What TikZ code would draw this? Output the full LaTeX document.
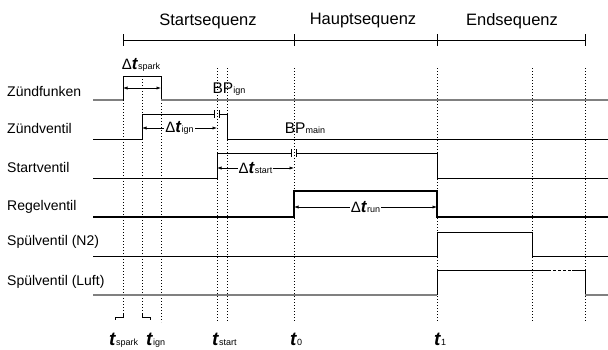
\documentclass[tikz,border=0pt]{standalone}
\usepackage{fontspec}
\setmainfont{Liberation Sans}
\usetikzlibrary{arrows.meta,calc}

\newcommand{\tsub}[1]{\raisebox{-0.5pt}{\fontsize{9}{10}\selectfont #1}}
\newcommand{\tvar}[1]{\textbf{\textit{t}}\tsub{#1}}
\newcommand{\dtime}[1]{{\fontsize{15}{16}\selectfont Δ}\tvar{#1}}

\begin{document}
\begin{tikzpicture}[
    x=1pt, y=-1pt,
    >={Latex[length=4.5pt,width=3.2pt]},
    sig/.style={line width=0.8pt},
    lowgray/.style={line width=1.3pt, black!50},
    guide/.style={dash pattern=on 0.9pt off 2.1pt, line width=0.7pt},
    lbl/.style={anchor=west, inner sep=0pt, font=\fontsize{14}{16}\selectfont},
    seq/.style={font=\fontsize{16.5}{18}\selectfont},
    dt/.style={fill=white, inner sep=1pt, font=\fontsize{17}{18}\selectfont},
    bp/.style={inner sep=0pt, font=\fontsize{15.5}{17}\selectfont},
    tlab/.style={anchor=base west, inner sep=0pt, font=\fontsize{19}{20}\selectfont}
]
\useasboundingbox (0,0) rectangle (608,349);

% time points and signal levels
\foreach \n/\x in {ts/93, tspark/123, tign/142, tsparkoff/161, tstart/217, tignoff/227,
                   tnull/294, tone/437, tntwo/532, tluft/585, te/608}
  \coordinate (\n) at (\x,0);
\foreach \n/\y in {seq/40, zfl/100, zfh/76, zvl/139, zvh/114, svl/178, svh/153,
                   rvl/217, rvh/191, nl/256, nh/232, ll/295, lh/270}
  \coordinate (\n) at (0,\y);

% sequences
\draw[line width=0.8pt] (tspark|-seq) -- (tluft|-seq);
\foreach \t in {tspark,tnull,tone,tluft}
  \draw[line width=0.8pt] (\t|-seq) ++(0,-6) -- ++(0,12);
\node[seq] (startseq) at (208,21) {Startsequenz};
\node[seq] (hauptseq) at (363,21) {Hauptsequenz};
\node[seq] (endseq) at (512,21) {Endsequenz};

% guides
\foreach \t in {tstart,tignoff,tnull,tone,tntwo,tluft}
  \draw[guide] (\t|-0,68) -- (\t|-0,322);
\draw[guide] (tspark|-0,76) -- (tspark|-0,313);
\draw[guide] (tign|-0,76) -- (tign|-0,313);
\draw[guide] (tsparkoff|-0,76) -- (tsparkoff|-0,322);

% labels
\node[lbl] (zf) at (7,91) {Zündfunken};
\node[lbl] (zv) at (7,128) {Zündventil};
\node[lbl] (sv) at (7,167) {Startventil};
\node[lbl] (rv) at (7,207) {Regelventil};
\node[lbl] (nv) at (7,242) {Spülventil (N2)};
\node[lbl] (lv) at (7,282) {Spülventil (Luft)};

% Zuendfunken
\draw[lowgray] (ts|-zfl) -- (tspark|-zfl);
\draw[sig] (tspark|-zfl) |- (tsparkoff|-zfh) -- (tsparkoff|-zfl);
\draw[lowgray] (tsparkoff|-zfl) -- (te|-zfl);

% Zuendventil
\draw[sig] (ts|-zvl) -- (tign|-zvl) |- ($(tstart|-zvh)+(-2.5,0)$) ++(0,-4) -- ++(0,8);
\draw[sig] ($(tstart|-zvh)+(2.5,0)$) ++(0,-4) -- ++(0,8) ++(0,-4) -| (tignoff|-zvl) -- (te|-zvl);

% Startventil
\draw[sig] (ts|-svl) -- (tstart|-svl) |- ($(tnull|-svh)+(-2.5,0)$) ++(0,-4) -- ++(0,8);
\draw[sig] ($(tnull|-svh)+(2.5,0)$) ++(0,-4) -- ++(0,8) ++(0,-4) -| (tone|-svl) -- (te|-svl);

% Regelventil
\draw[line width=2pt] (ts|-rvl) -- (tnull|-rvl) |- (tone|-rvh) -- (tone|-rvl) -- (te|-rvl);

% Spuelventile
\draw[sig] (ts|-nl) -- (tone|-nl) |- (tntwo|-nh) -- (tntwo|-nl) -- (te|-nl);
\draw[lowgray] (ts|-ll) -- (tone|-ll);
\draw[sig] (tone|-ll) |- (548,270);
\draw[sig, dash pattern=on 3pt off 2pt] (548,270) -- (572,270);
\draw[sig] (572,270) -| (tluft|-ll);
\draw[lowgray] (tluft|-ll) -- (te|-ll);

% durations
\draw[<->, line width=0.7pt] (tspark|-0,88) -- (tsparkoff|-0,88);
\node[dt, fill=none] (dtspark) at (141,65) {\dtime{spark}};
\draw[<->, line width=0.7pt] (tign|-0,128) -- (tstart|-0,128) node[dt, midway] (dtign) {\dtime{ign}};
\draw[<->, line width=0.7pt] (tstart|-0,168) -- (tnull|-0,168) node[dt, midway] (dtstart) {\dtime{start}};
\draw[<->, line width=0.7pt] (tnull|-0,207) -- (tone|-0,207) node[dt, midway] (dtrun) {\dtime{run}};
\node[bp] (bpign) at (229,89) {BP\tsub{ign}};
\node[bp] (bpmain) at (305,128) {BP\tsub{main}};

% time marks
\draw[line width=0.6pt] (tspark|-0,313) -- (tspark|-0,317) -- (115,317) -- (115,320);
\draw[line width=0.6pt] (tign|-0,313) -- (tign|-0,317) -- (150,317) -- (150,320);
\node[tlab] (lspark) at (109,345) {\tvar{spark}};
\node[tlab] (lign) at (146,345) {\tvar{ign}};
\node[tlab] (lstart) at (212,345) {\tvar{start}};
\node[tlab] (lnull) at (290,345) {\tvar{0}};
\node[tlab] (lone) at (434,345) {\tvar{1}};
\end{tikzpicture}
\end{document}
